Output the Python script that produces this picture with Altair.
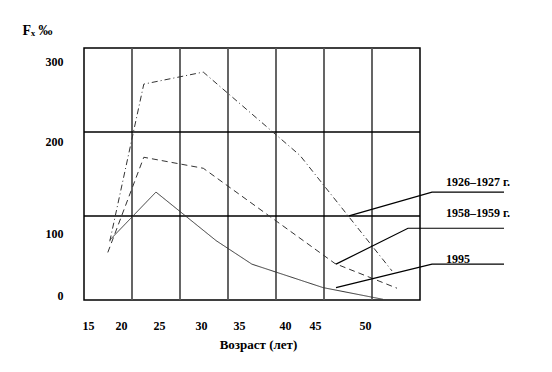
import altair as alt
import pandas as pd

# ---- data ----
x_ticks = [15, 20, 25, 30, 35, 40, 45, 50]
y_ticks = [0, 100, 200, 300]

ages_1926 = [18.3, 23.0, 30.3, 42.5, 52.7]
rate_1926 = [87, 272, 287, 185, 39]
ages_1958 = [18.0, 23.0, 30.3, 47.0, 53.2]
rate_1958 = [69, 183, 171, 51, 11]
ages_1995 = [18.3, 24.6, 32.0, 36.4, 45.8, 51.8]
rate_1995 = [89, 145, 88, 50, 12, -7]

legend_labels = ["1926–1927  г.", "1958–1959  г.", "1995"]
leader_age = [[48.4, 56.7, 63.9], [47.1, 54.3, 63.9], [47.1, 56.7, 63.9]]
leader_rate = [[119, 145, 145], [50, 105.5, 105.5], [12, 50, 50]]
label_age = [61.3, 61.3, 59.3]
label_rate = [156, 122, 58]

grid_cols = [1, 2, 3, 4, 5, 6]
grid_rows = [1, 2]

# ---- layout (the printed axis is unevenly spaced) ----
W, H = 336, 252
X_RANGE = [4, 37, 75, 117, 155, 201, 231, 281]
Y_RANGE = [247, 185.3, 93.7, 13.7]
FONT = "Times New Roman, Liberation Serif, DejaVu Serif, serif"

curves = pd.DataFrame(
    [{"series": "1926", "age": a, "rate": r, "idx": i} for i, (a, r) in enumerate(zip(ages_1926, rate_1926))]
    + [{"series": "1958", "age": a, "rate": r, "idx": i} for i, (a, r) in enumerate(zip(ages_1958, rate_1958))]
    + [{"series": "1995", "age": a, "rate": r, "idx": i} for i, (a, r) in enumerate(zip(ages_1995, rate_1995))]
)
leaders = pd.DataFrame(
    [{"label": lab, "age": a, "rate": r, "idx": i}
     for lab, ax, ry in zip(legend_labels, leader_age, leader_rate)
     for i, (a, r) in enumerate(zip(ax, ry))]
)
labels = pd.DataFrame({"label": legend_labels, "age": label_age, "rate": label_rate})

xs = alt.Scale(domain=x_ticks, range=X_RANGE, nice=False, zero=False)
ys = alt.Scale(domain=y_ticks, range=Y_RANGE, nice=False, zero=False)

x_axis = alt.Axis(orient="bottom", values=x_ticks, ticks=False, tickSize=0, domain=False, grid=False,
                  labelFont=FONT, labelFontWeight="bold", labelFontSize=12, labelColor="black",
                  labelBaseline="middle", labelPadding=25, labelFlush=False, labelOverlap=False, labelBound=False,
                  title="Возраст (лет)", titleFont=FONT, titleFontWeight="bold", titleFontSize=13,
                  titleColor="black", titleX=174, titleY=44, titleBaseline="middle")
y_axis = alt.Axis(orient="left", values=y_ticks, ticks=False, tickSize=0, domain=False, grid=False,
                  labelFont=FONT, labelFontWeight="bold", labelFontSize=12, labelColor="black",
                  labelPadding=21, labelOverlap=False, labelFlush=False, labelBound=False,
                  title="Fₓ ‰", titleFont=FONT, titleFontWeight="bold", titleFontSize=14,
                  titleColor="black", titleAngle=0, titleX=-62, titleY=-18,
                  titleAlign="left", titleBaseline="middle")

X = alt.X("age:Q", scale=xs, axis=x_axis)
Y = alt.Y("rate:Q", scale=ys, axis=y_axis)

curve_layer = alt.Chart(curves).mark_line(color="#333333", strokeWidth=1).encode(
    x=X, y=Y,
    strokeDash=alt.StrokeDash("series:N", legend=None,
                              scale=alt.Scale(domain=["1926", "1958", "1995"],
                                              range=[[6, 3, 1, 3], [6, 4], [1, 0]])),
    order="idx:Q",
)
leader_layer = alt.Chart(leaders).mark_line(color="black", strokeWidth=1.2).encode(
    x=X, y=Y, detail="label:N", order="idx:Q"
)
label_layer = alt.Chart(labels).mark_text(font=FONT, fontWeight="bold", fontSize=12, color="black",
                                          align="center", baseline="middle").encode(
    x=X, y=Y, text="label:N"
)
data_layers = alt.layer(curve_layer, leader_layer, label_layer)

vgrid = alt.Chart(pd.DataFrame({"gx": grid_cols})).mark_rule(color="#555555", strokeWidth=1.8).encode(
    x=alt.X("gx:Q", scale=alt.Scale(domain=[0, 7], nice=False, zero=False), axis=None)
)
hgrid = alt.Chart(pd.DataFrame({"gy": grid_rows})).mark_rule(color="black", strokeWidth=1.5).encode(
    y=alt.Y("gy:Q", scale=alt.Scale(domain=[0, 3], nice=False, zero=False), axis=None)
)
grid_layers = alt.layer(vgrid, hgrid)

chart = alt.layer(grid_layers, data_layers).resolve_scale(
    x="independent", y="independent"
).properties(
    width=W, height=H,
    autosize=alt.AutoSizeParams(type="none"),
    padding={"left": 76, "top": 40, "right": 120, "bottom": 60},
    background="white",
).configure_view(stroke="black", strokeWidth=1.5)

chart.save("out.html", embed_options={"renderer": "svg", "actions": False})
